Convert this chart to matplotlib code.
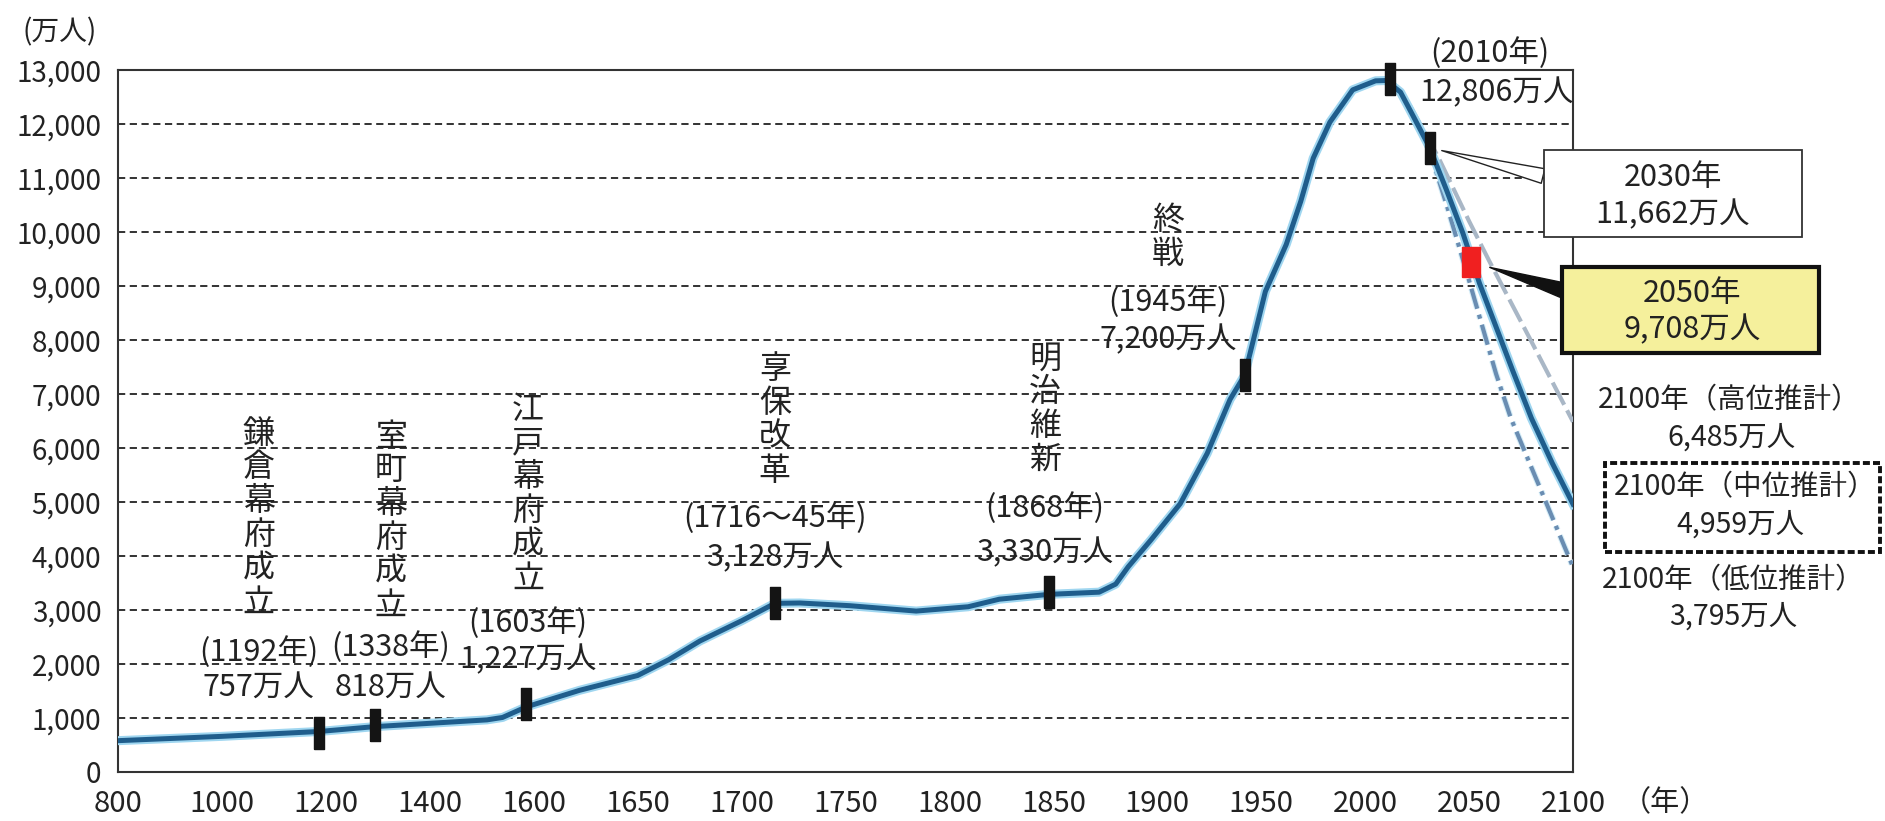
import numpy as np
import matplotlib.pyplot as plt
import matplotlib.patheffects as pe
from matplotlib.patches import Rectangle

plt.rcParams['font.family'] = ['Noto Sans CJK JP', 'DejaVu Sans']
plt.rcParams['text.color'] = '#222222'

# year ticks are drawn at equal spacing even though the gaps differ
tick_years = [800, 1000, 1200, 1400, 1600, 1650, 1700, 1750, 1800, 1850,
              1900, 1950, 2000, 2050, 2100]
y_ticks = list(range(0, 13001, 1000))

# population (10 thousand people)
years = [800, 1000, 1187, 1294, 1432, 1510, 1540, 1586, 1622, 1650, 1665,
         1680, 1700, 1716, 1728, 1752, 1784, 1809, 1824, 1848, 1872, 1880,
         1886, 1897, 1911, 1924, 1935, 1942, 1946, 1952, 1962, 1969, 1975,
         1983, 1994, 2005, 2010, 2017, 2023, 2031, 2039, 2047, 2055, 2063,
         2071, 2080, 2090, 2100]
population = [580, 660, 750, 840, 920, 965, 1010, 1207, 1512, 1787, 2080,
              2427, 2800, 3123, 3130, 3080, 2980, 3060, 3200, 3290, 3330,
              3480, 3800, 4300, 4967, 5900, 6900, 7350, 7967, 8900, 9767,
              10567, 11367, 12033, 12633, 12800, 12806, 12590, 12155, 11565,
              10790, 9980, 9050, 8240, 7430, 6550, 5720, 4959]

high_years = [2012, 2020, 2035, 2050, 2060, 2080, 2100]
high_pop = [12806, 12450, 11400, 10200, 9440, 7970, 6485]
low_years = [2012, 2020, 2031, 2040, 2050, 2063, 2070, 2084, 2100]
low_pop = [12806, 12380, 11500, 10400, 9100, 7370, 6560, 5270, 3795]

mark_years = [1187, 1294, 1586, 1716, 1848, 1942, 2012, 2031]
mark_pop = [713, 872, 1256, 3123, 3340, 7350, 12830, 11565]
red_year = [2051]
red_pop = [9453]

event_names = ["鎌倉幕府成立", "室町幕府成立", "江戸幕府成立", "享保改革", "明治維新", "終戦"]
event_years = ["(1192年)", "(1338年)", "(1603年)", "(1716～45年)", "(1868年)", "(1945年)"]
event_pops = ["757万人", "818万人", "1,227万人", "3,128万人", "3,330万人", "7,200万人"]

# where the event texts sit (data coords)
ev_x = [1071, 1325, 1589, 1716, 1846, 1905]
ev_name_y = [4704, 4648, 5148, 6519, 6723, 9908]
ev_year_y = [2222, 2315, 2759, 4704, 4889, 8704]
ev_pop_y = [1574, 1574, 2074, 3963, 4056, 8000]

idx = np.arange(len(tick_years))


def fwd(x):
    return np.interp(x, tick_years, idx)


def inv(i):
    return np.interp(i, idx, tick_years)


fig = plt.figure(figsize=(18.85, 8.21), dpi=100)
ax = fig.add_axes([0.0626, 0.0597, 0.7719, 0.8550])
ax.set_xscale('function', functions=(fwd, inv))
ax.set_xlim(800, 2100)
ax.set_ylim(0, 13000)

ax.set_xticks(tick_years)
ax.set_xticklabels([str(t) for t in tick_years], fontsize=21)
ax.set_yticks(y_ticks)
ax.set_yticklabels([f"{v:,}" for v in y_ticks], fontsize=20)
ax.tick_params(length=0, colors='#222222')
ax.tick_params(axis='y', pad=12)
ax.tick_params(axis='x', pad=12)
ax.yaxis.grid(True, linestyle=(0, (4, 2.5)), color='#222222', lw=1.3)
ax.set_axisbelow(True)
for s in ax.spines.values():
    s.set_color('#333333')
    s.set_linewidth(1.5)

halo = [pe.Stroke(linewidth=6.5, foreground='#9fd6f0'), pe.Normal()]
ax.plot(high_years, high_pop, color='#a9b7c6', lw=3, linestyle=(0, (6, 1.5)), zorder=3)
ax.plot(low_years, low_pop, color='#6a8db2', lw=3, linestyle=(0, (5, 1.5, 1, 1.5)),
        zorder=3, path_effects=[pe.Stroke(linewidth=4.5, foreground='#d6eef8'), pe.Normal()])
ax.plot(years, population, color='#1f5d8c', lw=3.6, zorder=4, path_effects=halo)

bar = [(-0.145, -0.5), (0.145, -0.5), (0.145, 0.5), (-0.145, 0.5), (-0.145, -0.5)]
ax.plot(mark_years, mark_pop, linestyle='none', marker=bar, markersize=22.5,
        color='#141414', zorder=6, clip_on=False)
wide = [(-0.28, -0.5), (0.28, -0.5), (0.28, 0.5), (-0.28, 0.5), (-0.28, -0.5)]
ax.plot(red_year, red_pop, linestyle='none', marker=wide, markersize=22,
        color='#f02020', zorder=6)

fs = 22
for name, yr, pop, x, yn, yy, yp in zip(event_names, event_years, event_pops,
                                        ev_x, ev_name_y, ev_year_y, ev_pop_y):
    ax.text(x, yn, "\n".join(name), ha='center', va='center', fontsize=23,
            linespacing=1.07)
    ax.text(x, yy, yr, ha='center', va='center', fontsize=fs)
    ax.text(x, yp, pop, ha='center', va='center', fontsize=fs)

ax.text(2060, 13316, "(2010年)", ha='center', va='center', fontsize=fs)
ax.text(2063, 12575, "12,806万人", ha='center', va='center', fontsize=fs)

# 2030 callout
ax.annotate('', xy=(2031, 11565), xytext=(0.9794, 0.8490), textcoords='axes fraction',
            arrowprops=dict(arrowstyle='wedge,tail_width=0.54', fc='white', ec='#222222',
                            lw=1, shrinkA=0, shrinkB=9, mutation_scale=20), zorder=5)
ax.add_patch(Rectangle((0.9801, 0.7621), 0.1773, 0.1239, transform=ax.transAxes,
                       fc='white', ec='#333333', lw=1.3, clip_on=False, zorder=6))
ax.text(1.0687, 0.8462, "2030年", transform=ax.transAxes, ha='center', va='center',
        fontsize=fs, zorder=7)
ax.text(1.0687, 0.7934, "11,662万人", transform=ax.transAxes, ha='center', va='center',
        fontsize=fs, zorder=7)

# 2050 callout
ax.annotate('', xy=(2051, 9453), xytext=(0.9924, 0.6866), textcoords='axes fraction',
            arrowprops=dict(arrowstyle='wedge,tail_width=0.54', fc='#111111', ec='#111111',
                            lw=1, shrinkA=0, shrinkB=14, mutation_scale=20), zorder=5)
ax.add_patch(Rectangle((0.9924, 0.5969), 0.1767, 0.1225, transform=ax.transAxes,
                       fc='#f5f09c', ec='#111111', lw=3, clip_on=False, zorder=6))
ax.text(1.0818, 0.6823, "2050年", transform=ax.transAxes, ha='center', va='center',
        fontsize=fs, zorder=7)
ax.text(1.0818, 0.6296, "9,708万人", transform=ax.transAxes, ha='center', va='center',
        fontsize=fs, zorder=7)

# 2100 projections
fs2 = 20.5
ax.text(1.1072, 0.5299, "2100年（高位推計）", transform=ax.transAxes, ha='center',
        va='center', fontsize=fs2)
ax.text(1.1086, 0.4758, "6,485万人", transform=ax.transAxes, ha='center', va='center',
        fontsize=fs2)
ax.add_patch(Rectangle((1.0220, 0.3134), 0.1890, 0.1268, transform=ax.transAxes,
                       fc='none', ec='#111111', lw=2.8, linestyle=(0, (1.8, 0.8)),
                       clip_on=False))
ax.text(1.1182, 0.4060, "2100年（中位推計）", transform=ax.transAxes, ha='center',
        va='center', fontsize=fs2)
ax.text(1.1148, 0.3519, "4,959万人", transform=ax.transAxes, ha='center', va='center',
        fontsize=fs2)
ax.text(1.1100, 0.2735, "2100年（低位推計）", transform=ax.transAxes, ha='center',
        va='center', fontsize=fs2)
ax.text(1.1100, 0.2208, "3,795万人", transform=ax.transAxes, ha='center', va='center',
        fontsize=fs2)

ax.text(-0.0399, 1.0541, "(万人)", transform=ax.transAxes, ha='center', va='center',
        fontsize=20)
ax.text(1.0632, -0.0442, "（年）", transform=ax.transAxes, ha='center', va='center',
        fontsize=21)

fig.savefig('out.png', dpi=100, facecolor='white')
